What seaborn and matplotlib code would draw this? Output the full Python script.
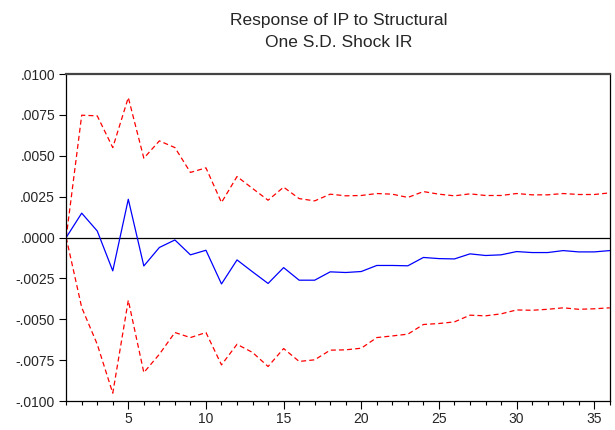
import matplotlib
matplotlib.use("Agg")
import matplotlib.pyplot as plt
import matplotlib.ticker as mticker
import seaborn as sns
import pandas as pd

periods = list(range(1, 37))
response = [0.0, 0.00149, 0.0004, -0.00204, 0.00234, -0.00174, -0.00061, -0.00015,
            -0.00106, -0.00078, -0.00284, -0.00137, -0.0021, -0.00281, -0.00184,
            -0.00261, -0.00261, -0.0021, -0.00214, -0.00208, -0.00171, -0.00171,
            -0.00173, -0.00122, -0.00129, -0.00131, -0.001, -0.0011, -0.00106,
            -0.00086, -0.00092, -0.00092, -0.0008, -0.00088, -0.00088, -0.0008]
upper = [0.0, 0.00748, 0.00744, 0.0055, 0.00856, 0.00485, 0.00591, 0.0055,
         0.00398, 0.00426, 0.00214, 0.00373, 0.0030, 0.00228, 0.00308, 0.00238,
         0.00224, 0.00265, 0.00255, 0.00257, 0.00269, 0.00265, 0.00245, 0.00281,
         0.00265, 0.00255, 0.00267, 0.00257, 0.00257, 0.00269, 0.00261, 0.00261,
         0.00269, 0.00263, 0.00263, 0.00273]
lower = [0.0, -0.00428, -0.00653, -0.00952, -0.00384, -0.00826, -0.00714, -0.00581,
         -0.00612, -0.00581, -0.00779, -0.00653, -0.00703, -0.00789, -0.00679,
         -0.00758, -0.00748, -0.00689, -0.00687, -0.00677, -0.00612, -0.00602,
         -0.00591, -0.00532, -0.00526, -0.00516, -0.00475, -0.00479, -0.00467,
         -0.00443, -0.00445, -0.00439, -0.0043, -0.00439, -0.00436, -0.0043]
y_ticks = [-0.01, -0.0075, -0.005, -0.0025, 0.0, 0.0025, 0.005, 0.0075, 0.01]
title_lines = ["Response of IP to Structural", "One S.D. Shock IR"]

sns.set_style("ticks")
plt.rcParams["font.family"] = ["Liberation Sans", "DejaVu Sans"]

df = pd.DataFrame({"period": periods, "response": response,
                   "upper": upper, "lower": lower})

fig = plt.figure(figsize=(6.15, 4.3), dpi=100)
ax = fig.add_axes([0.1076, 0.0674, 0.8839, 0.7605])

sns.lineplot(data=df, x="period", y="upper", ax=ax, color="#ff0000",
             linewidth=0.9)
sns.lineplot(data=df, x="period", y="lower", ax=ax, color="#ff0000",
             linewidth=0.9)
for line in ax.lines:
    line.set_linestyle((0, (4, 2.5)))
sns.lineplot(data=df, x="period", y="response", ax=ax, color="#0000ff",
             linewidth=0.9)
ax.axhline(0, color="black", linewidth=0.9, zorder=1)

ax.set_xlim(1, 36)
ax.set_ylim(-0.01, 0.01)
ax.set_yticks(y_ticks)
ax.yaxis.set_major_formatter(mticker.FuncFormatter(
    lambda v, p: ("-" if v < -1e-12 else "") + f"{abs(v):.4f}".lstrip("0")))
ax.xaxis.set_major_locator(mticker.MultipleLocator(5))
ax.xaxis.set_minor_locator(mticker.MultipleLocator(1))
ax.tick_params(axis="x", which="major", length=6, width=0.8, labelsize=10,
               direction="out", color="black", pad=2)
ax.tick_params(axis="x", which="minor", length=3, width=0.8, direction="out",
               color="black")
ax.tick_params(axis="y", which="major", length=5, width=0.8, labelsize=10,
               direction="out", color="black", pad=3)
ax.set_xlabel("")
ax.set_ylabel("")
for side in ["left", "bottom", "right"]:
    ax.spines[side].set_visible(True)
    ax.spines[side].set_color("black")
    ax.spines[side].set_linewidth(0.9)
ax.spines["top"].set_visible(True)
ax.spines["top"].set_color("#444444")
ax.spines["top"].set_linewidth(1.6)

fig.text(0.55, 1 - 25 / 430, title_lines[0], ha="center", va="baseline",
         fontsize=12.5)
fig.text(0.55, 1 - 46.7 / 430, title_lines[1], ha="center", va="baseline",
         fontsize=12.5)

fig.savefig("out.png", dpi=100)
